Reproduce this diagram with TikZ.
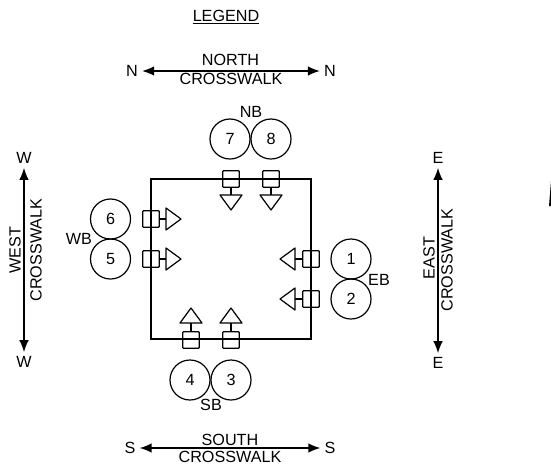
\documentclass[tikz,border=0pt]{standalone}
\usepackage{fontspec}
\setmainfont{Liberation Sans}
\usetikzlibrary{
  arrows.meta
}

\begin{document}
\begin{tikzpicture}[
  x=0.025cm, y=-0.025cm,
  font=\fontsize{11.5}{11.5}\selectfont,
  label/.style={inner sep=0pt},
  ulabel/.style={label, rotate=90},
  phase/.style={circle, draw, line width=0.3mm,
    minimum size=1cm, inner sep=0pt},
  sigbox/.style={rectangle, rounded corners=0.5pt,
    draw, line width=0.3mm, minimum size=0.41cm, inner sep=0pt},
  sighead/.pic={
    \draw[line width=0.3mm, line join=round]
      (0,-11) -- (15,0) -- (0,11) -- cycle;
  },
  stem/.style={line width=0.3mm},
  walk/.style={{Latex[length=3mm,width=2.4mm]}-{Latex[length=3mm,width=2.4mm]},
    line width=0.35mm}
]
\useasboundingbox (0,0) rectangle (551,468);

\node[label] (legend) at (226,17) {\underline{LEGEND}};

% intersection
\node[draw, line width=0.3mm, minimum size=4cm, inner sep=0pt] (box) at (231,259) {};

% phases
\node[phase] (p7) at (230,139) {7};
\node[phase] (p8) at (271,139) {8};
\node[phase] (p6) at (110.5,219) {6};
\node[phase] (p5) at (110.5,259) {5};
\node[phase] (p1) at (351,259) {1};
\node[phase] (p2) at (351,299) {2};
\node[phase] (p4) at (190,380) {4};
\node[phase] (p3) at (231,380) {3};

\node[label] (nb) at (251,112) {NB};
\node[label] (wb) at (79,239) {WB};
\node[label] (eb) at (379,280) {EB};
\node[label] (sb) at (211,405) {SB};

% signal heads
\node[sigbox] (b7) at (231,179) {};
\node[sigbox] (b8) at (271,179) {};
\coordinate (h7) at (231,195);
\coordinate (h8) at (271,195);
\pic[rotate=270] at (h7) {sighead};
\pic[rotate=270] at (h8) {sighead};
\draw[stem] (b7) -- (h7);
\draw[stem] (b8) -- (h8);

\node[sigbox] (b6) at (151,219) {};
\node[sigbox] (b5) at (151,259) {};
\coordinate (h6) at (166,219);
\coordinate (h5) at (166,259);
\pic at (h6) {sighead};
\pic at (h5) {sighead};
\draw[stem] (b6) -- (h6);
\draw[stem] (b5) -- (h5);

\node[sigbox] (b1) at (311,259) {};
\node[sigbox] (b2) at (311,299) {};
\coordinate (h1) at (295,259);
\coordinate (h2) at (295,299);
\pic[rotate=180] at (h1) {sighead};
\pic[rotate=180] at (h2) {sighead};
\draw[stem] (b1) -- (h1);
\draw[stem] (b2) -- (h2);

\node[sigbox] (b4) at (191,340) {};
\node[sigbox] (b3) at (231,340) {};
\coordinate (h4) at (191,323);
\coordinate (h3) at (231,323);
\pic[rotate=90] at (h4) {sighead};
\pic[rotate=90] at (h3) {sighead};
\draw[stem] (b4) -- (h4);
\draw[stem] (b3) -- (h3);

% crosswalks
\node[label] (nw) at (132,71) {N};
\node[label] (ne) at (330,71) {N};
\node[label] (northa) at (230.5,60) {NORTH};
\node[label] (northb) at (231,79) {CROSSWALK};
\draw[walk] ([xshift=1mm]nw.east) -- ([xshift=-1mm]ne.west);

\node[label] (sw) at (130,448) {S};
\node[label] (se) at (330,448) {S};
\node[label] (southa) at (230,440) {SOUTH};
\node[label] (southb) at (230,457) {CROSSWALK};
\draw[walk] ([xshift=1mm]sw.east) -- ([xshift=-1mm]se.west);

\node[label] (wn) at (24,158) {W};
\node[label] (ws) at (24,362) {W};
\node[ulabel] (westa) at (15,250) {WEST};
\node[ulabel] (westb) at (36,250) {CROSSWALK};
\draw[walk] ([yshift=-1mm]wn.south) -- ([yshift=1mm]ws.north);

\node[label] (en) at (438,158) {E};
\node[label] (es) at (438,363) {E};
\node[ulabel] (easta) at (429,258) {EAST};
\node[ulabel] (eastb) at (447,260) {CROSSWALK};
\draw[walk] ([yshift=-1mm]en.south) -- ([yshift=1mm]es.north);

% sliver at the right edge
\fill (549,206) -- (551,206) -- (551,181) -- cycle;
\end{tikzpicture}
\end{document}
